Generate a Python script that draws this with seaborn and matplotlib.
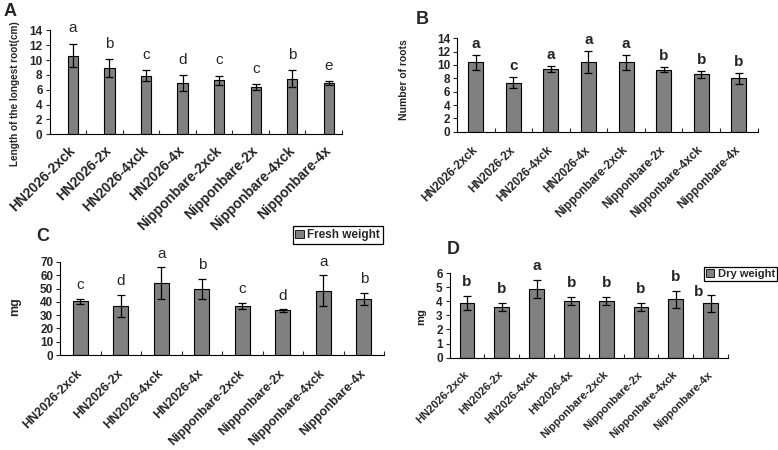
import pandas as pd
import matplotlib
matplotlib.use('Agg')
import matplotlib.pyplot as plt
import matplotlib.patches as mpatches
import seaborn as sns

# treatments on the x axis (same order in every panel)
lines = ['HN2026-2xck', 'HN2026-2x', 'HN2026-4xck', 'HN2026-4x',
         'Nipponbare-2xck', 'Nipponbare-2x', 'Nipponbare-4xck', 'Nipponbare-4x']

# A: length of the longest root (cm)
root_len = [10.6, 8.9, 7.9, 6.9, 7.3, 6.4, 7.5, 6.9]
root_len_err = [1.6, 1.2, 0.7, 1.1, 0.6, 0.4, 1.1, 0.3]
root_len_sig = ['a', 'b', 'c', 'd', 'c', 'c', 'b', 'e']

# B: number of roots
root_num = [10.4, 7.35, 9.35, 10.4, 10.4, 9.3, 8.6, 8.0]
root_num_err = [1.15, 0.85, 0.45, 1.65, 1.1, 0.4, 0.5, 0.8]
root_num_sig = ['a', 'c', 'a', 'a', 'a', 'b', 'b', 'b']

# C: fresh weight (mg)
fresh_wt = [40.5, 37, 54, 50, 37, 33.5, 48.5, 42.5]
fresh_wt_err = [2, 8.5, 12, 7.5, 2.5, 1, 11.5, 4.5]
fresh_wt_sig = ['c', 'd', 'a', 'b', 'c', 'd', 'a', 'b']

# D: dry weight (mg)
dry_wt = [3.85, 3.6, 4.85, 4.0, 4.0, 3.6, 4.15, 3.85]
dry_wt_err = [0.5, 0.3, 0.65, 0.3, 0.3, 0.3, 0.6, 0.6]
dry_wt_sig = ['b', 'b', 'a', 'b', 'b', 'b', 'b', 'b']

BAR = '#808080'

sns.set_style('ticks')
plt.rcParams['font.family'] = ['Liberation Sans', 'DejaVu Sans']
plt.rcParams['font.weight'] = 'bold'

fig = plt.figure(figsize=(7.78, 4.5), dpi=100)
fig.patch.set_facecolor('white')


def panel(rect, vals, errs, sig, ymax, ystep, width, shift, ylabel, lab_xy, lab_fs,
          letter_off, letter_bold, xfs, xpad, nudge=None):
    ax = fig.add_axes(rect)
    df = pd.DataFrame({'line': lines, 'val': vals})
    sns.barplot(df, x='line', y='val', color=BAR, saturation=1, width=width,
                edgecolor='black', linewidth=0.8, errorbar=None, ax=ax)
    ax.errorbar(range(len(vals)), vals, yerr=errs, fmt='none', ecolor='black',
                elinewidth=0.9, capsize=3, capthick=0.9)
    for i, (v, e, s) in enumerate(zip(vals, errs, sig)):
        dx, dy = (0, letter_off)
        if nudge and i in nudge:
            dx, dy = nudge[i]
        ax.annotate(s, (i, v + e), xytext=(dx, dy), textcoords='offset points',
                    ha='center', va='center', fontsize=11,
                    fontweight='bold' if letter_bold else 'normal')
    x0 = -0.5 - shift
    ax.set_xlim(x0, x0 + len(vals))
    ax.set_ylim(0, ymax)
    ax.set_yticks(range(0, ymax + 1, ystep))
    ax.set_xticks([x0 + k for k in range(1, len(vals) + 1)], minor=True)
    ax.tick_params(axis='x', which='major', length=0, pad=xpad)
    ax.tick_params(axis='x', which='minor', direction='in', length=3, width=0.8)
    ax.tick_params(axis='y', direction='out', length=3, width=0.8, labelsize=8.5, pad=2)
    ax.set_xticks(range(len(vals)))
    ax.set_xticklabels(lines, rotation=45, ha='right', va='center',
                       rotation_mode='anchor', fontsize=xfs, fontweight='bold')
    for t in ax.get_yticklabels():
        t.set_fontweight('bold')
    sns.despine(ax=ax)
    for sp in ax.spines.values():
        sp.set_linewidth(0.8)
        sp.set_color('black')
    ax.set_xlabel('')
    ax.set_ylabel(ylabel, fontsize=lab_fs, fontweight='bold')
    ax.yaxis.set_label_coords(*lab_xy)
    return ax


W, H = 778, 450


def rect(l, r, top, bottom):
    return [l / W, 1 - bottom / H, (r - l) / W, (bottom - top) / H]


axA = panel(rect(49.5, 342, 30.3, 134.3), root_len, root_len_err, root_len_sig,
            14, 2, 0.28, 0.14, 'Length of the longest root(cm)', (-0.10, 0.39), 7.2,
            11, False, 10, 10)
axB = panel(rect(457, 757.5, 38.3, 131.7), root_num, root_num_err, root_num_sig,
            14, 2, 0.4, 0.0, 'Number of roots', (-0.16, 0.56), 7.5,
            8, True, 8.5, 12)
axC = panel(rect(60.2, 384, 262, 355), fresh_wt, fresh_wt_err, fresh_wt_sig,
            70, 10, 0.37, 0.0, 'mg', (-0.12, 0.52), 9,
            9.5, False, 9, 12)
axD = panel(rect(449.6, 728, 273, 357.7), dry_wt, dry_wt_err, dry_wt_sig,
            6, 1, 0.43, 0.0, 'mg', (-0.085, 0.48), 8,
            10, True, 8, 11, nudge={7: (-8.5, 2)})

# legends sit outside the plotting area
hC = mpatches.Patch(facecolor=BAR, edgecolor='black', linewidth=0.6, label='Fresh weight')
legC = axC.legend(handles=[hC], loc='upper right', bbox_to_anchor=(383 / W, 1 - 226 / H),
                  bbox_transform=fig.transFigure, fancybox=False, edgecolor='black',
                  framealpha=1, borderpad=0.25, handlelength=0.7, handleheight=0.7,
                  handletextpad=0.3, borderaxespad=0, prop={'weight': 'bold', 'size': 8.5})
legC.get_frame().set_linewidth(0.9)

hD = mpatches.Patch(facecolor=BAR, edgecolor='black', linewidth=0.6, label='Dry weight')
legD = axD.legend(handles=[hD], loc='upper right', bbox_to_anchor=(777 / W, 1 - 267 / H),
                  bbox_transform=fig.transFigure, fancybox=False, edgecolor='black',
                  framealpha=1, borderpad=0.2, handlelength=0.7, handleheight=0.7,
                  handletextpad=0.3, borderaxespad=0, prop={'weight': 'bold', 'size': 8})
legD.get_frame().set_linewidth(0.9)

for letter, (px, py) in {'A': (10, 11), 'B': (422, 19), 'C': (43, 237), 'D': (453, 250)}.items():
    fig.text(px / W, 1 - py / H, letter, fontsize=13, fontweight='bold',
             ha='center', va='center')

fig.savefig('out.png', dpi=100, facecolor='white')
